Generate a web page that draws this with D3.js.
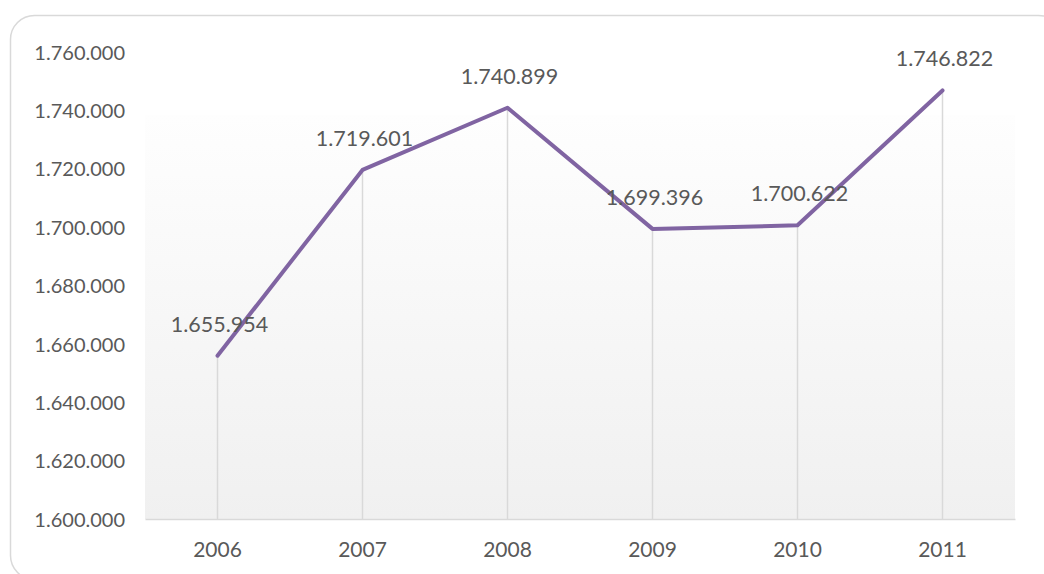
<!DOCTYPE html>
<html>
<head>
<meta charset="utf-8">
<script src="https://cdn.jsdelivr.net/npm/d3@7"></script>
<style>
  html, body { margin: 0; padding: 0; background: #fff; overflow: hidden; }
  svg { display: block; }
  text { font-family: Lato, "Open Sans", sans-serif; fill: #595959; }
</style>
</head>
<body>
<svg id="chart" width="1044" height="574"></svg>
<script>
// Yearly totals
const years = ["2006", "2007", "2008", "2009", "2010", "2011"];
const values = [1655954, 1719601, 1740899, 1699396, 1700622, 1746822];
const yTicks = [1600000, 1620000, 1640000, 1660000, 1680000, 1700000, 1720000, 1740000, 1760000];

const plot = { left: 145, right: 1015, top: 52, bottom: 519 };

const svg = d3.select("#chart");

// German-style thousands separator: 1.655.954
const fmt = d3.formatLocale({ decimal: ",", thousands: ".", grouping: [3], currency: ["", ""] }).format(",d");

const x = d3.scaleBand().domain(years).range([plot.left, plot.right]);
const y = d3.scaleLinear().domain([1600000, 1760000]).range([plot.bottom, plot.top]);
const cx = d => x(d) + x.bandwidth() / 2;

// Outer frame with rounded corners (runs past the right and bottom edges)
svg.append("rect")
  .attr("x", 10.5).attr("y", 15.5)
  .attr("width", 1052).attr("height", 564)
  .attr("rx", 24).attr("ry", 24)
  .attr("fill", "#fff")
  .attr("stroke", "#d9d9d9").attr("stroke-width", 1.5);

// Plot area fill: white fading to light grey
const defs = svg.append("defs");
const grad = defs.append("linearGradient").attr("id", "plotFill")
  .attr("x1", 0).attr("y1", 0).attr("x2", 0).attr("y2", 1);
grad.append("stop").attr("offset", "0%").attr("stop-color", "#fefefe");
grad.append("stop").attr("offset", "100%").attr("stop-color", "#f0f0f0");

svg.append("rect")
  .attr("x", plot.left).attr("y", 115)
  .attr("width", plot.right - plot.left).attr("height", plot.bottom - 115)
  .attr("fill", "url(#plotFill)");

// Y axis labels
const yAxis = svg.append("g")
  .attr("transform", `translate(${125},0)`)
  .call(d3.axisLeft(y).tickValues(yTicks).tickFormat(fmt).tickSize(0).tickPadding(0));
yAxis.select(".domain").remove();
yAxis.selectAll("text")
  .attr("font-family", "Lato, 'Open Sans', sans-serif")
  .attr("font-size", 20)
  .attr("fill", "#595959")
  .attr("dy", "0.36em");

// X axis
const xAxis = svg.append("g")
  .attr("transform", `translate(0,${plot.bottom})`)
  .call(d3.axisBottom(x).tickSize(0).tickPadding(0));
xAxis.select(".domain")
  .attr("stroke", "#d9d9d9").attr("stroke-width", 1.5);
xAxis.selectAll("text")
  .attr("font-family", "Lato, 'Open Sans', sans-serif")
  .attr("font-size", 21)
  .attr("fill", "#595959")
  .attr("y", 38).attr("dy", 0);

// Drop lines from each point to the axis
svg.append("g").selectAll("line")
  .data(years)
  .join("line")
  .attr("x1", d => cx(d)).attr("x2", d => cx(d))
  .attr("y1", (d, i) => y(values[i]))
  .attr("y2", plot.bottom)
  .attr("stroke", "#d9d9d9").attr("stroke-width", 1.5);

// Series line
const line = d3.line()
  .x((d, i) => cx(years[i]))
  .y(d => y(d));
svg.append("path")
  .datum(values)
  .attr("d", line)
  .attr("fill", "none")
  .attr("stroke", "#8064a2")
  .attr("stroke-width", 4)
  .attr("stroke-linejoin", "round")
  .attr("stroke-linecap", "round");

// Value labels above the points
svg.append("g").selectAll("text")
  .data(values)
  .join("text")
  .attr("x", (d, i) => cx(years[i]) + 2)
  .attr("y", d => y(d) - 24)
  .attr("text-anchor", "middle")
  .attr("font-size", 21.5)
  .text(d => fmt(d));
</script>
</body>
</html>
